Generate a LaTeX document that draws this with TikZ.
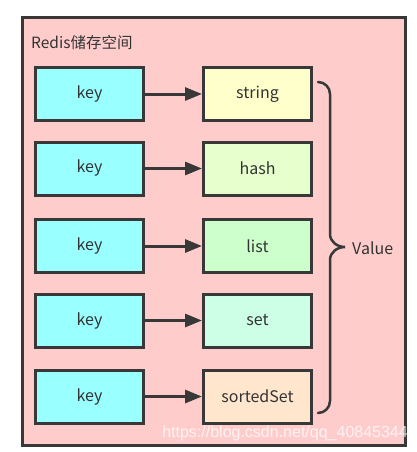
\documentclass[tikz,border=0pt]{standalone}
\usepackage{fontspec}
\setmainfont{Noto Sans CJK SC}
\newfontfamily\wmfont{Liberation Sans}
\usetikzlibrary{arrows.meta}
\definecolor{edge}{HTML}{383838}
\definecolor{txt}{HTML}{333333}
\definecolor{bgpink}{HTML}{FFCCCC}
\definecolor{keyc}{HTML}{99FFFF}
\definecolor{strc}{HTML}{FFFFCC}
\definecolor{hashc}{HTML}{E6FFCC}
\definecolor{listc}{HTML}{CCFFCC}
\definecolor{setc}{HTML}{CCFFE6}
\definecolor{zsetc}{HTML}{FFE6CC}
\tikzset{
  box/.style={draw=edge, line width=3pt, minimum width=108pt, minimum height=53pt, inner sep=0pt, text=txt, font=\fontsize{16}{19}\selectfont},
  keybox/.style={box, fill=keyc},
  link/.style={draw=edge, line width=3pt, -{Triangle[length=17pt,width=13pt]}},
}
\begin{document}
\begin{tikzpicture}[x=1pt,y=-1pt]
\useasboundingbox (0,0) rectangle (417,452);
\node[draw=edge, fill=bgpink, line width=3pt, minimum width=383pt, minimum height=427pt, inner sep=0pt, anchor=north west] (store) at (20.5,16.5) {};
\node[anchor=west, text=txt, font=\fontsize{15.5}{18}\selectfont, inner sep=0pt] (title) at (31,43) {Redis储存空间};
\foreach \i/\y/\c/\t in {1/94/strc/string, 2/168.5/hashc/hash, 3/246/listc/list, 4/320.5/setc/set, 5/396.5/zsetc/sortedSet}{
  \node[keybox] (k\i) at (89.5,\y) {key};
  \node[box, fill=\c] (v\i) at (257.5,\y) {\t};
  \draw[link] (k\i) -- (v\i);
}
\coordinate (bt) at (318,82);
\coordinate (bb) at (318,413);
\coordinate (tip) at (345,247);
\draw[edge, line width=2.5pt, line cap=round] (bt) to[out=0,in=90] (330,94) -- (330,234) to[out=-90,in=180] (tip) to[out=180,in=90] (330,260) -- (330,401) to[out=-90,in=0] (bb);
\node[anchor=west, text=txt, font=\fontsize{16}{19}\selectfont, inner sep=0pt] (value) at (352,248) {Value};
\node[anchor=east, text=white, opacity=0.75, font=\wmfont\fontsize{16}{18}\selectfont, inner sep=0pt] (wm) at (408,433) {https://blog.csdn.net/qq\_40845344};
\end{tikzpicture}
\end{document}
